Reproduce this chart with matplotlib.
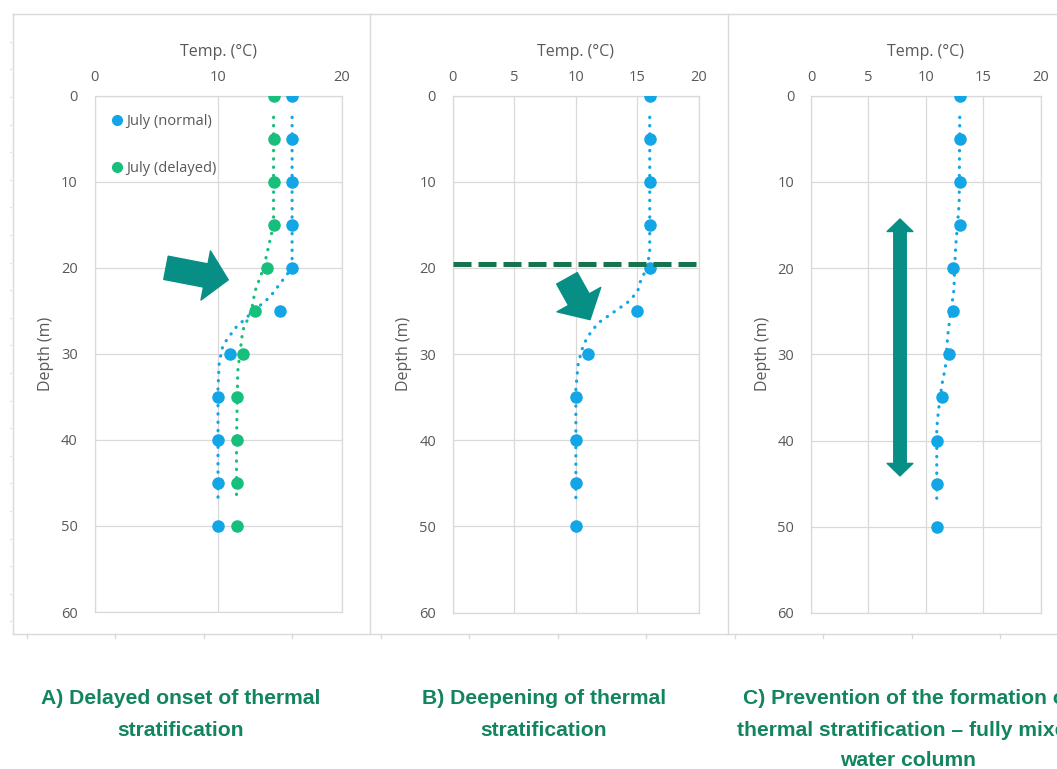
import numpy as np
import matplotlib.pyplot as plt
from matplotlib.patches import FancyArrowPatch
from matplotlib.lines import Line2D

plt.rcParams['font.family'] = ['Open Sans', 'DejaVu Sans']

##Depths of the measured profiles (m)
depths = [0, 5, 10, 15, 20, 25, 30, 35, 40, 45, 50]

##A) delayed onset - markers
a_normal = [16, 16, 16, 16, 16, 15, 11, 10, 10, 10, 10]
a_delayed = [14.5, 14.5, 14.5, 14.5, 14, 13, 12, 11.5, 11.5, 11.5, 11.5]
##A) smoothed dotted lines
a_normal_line_d = [2.5, 20, 21.7, 23.4, 25, 27, 29, 31, 34, 40, 47.3]
a_normal_line_t = [16, 16, 15.1, 14.2, 12.9, 11.4, 10.4, 10.1, 10, 10, 10]
a_delayed_line_d = [2.5, 15, 17.5, 20, 22.7, 25, 27.3, 29.7, 32, 40, 46.8]
a_delayed_line_t = [14.5, 14.5, 14.1, 13.7, 13.0, 12.7, 12.0, 11.8, 11.6, 11.5, 11.5]

##B) deepening
b_normal = [16, 16, 16, 16, 16, 15, 11, 10, 10, 10, 10]
b_line_d = [2.5, 18, 20, 21.3, 22.8, 24, 25.4, 26.4, 27.9, 29, 31, 34, 40, 47.3]
b_line_t = [16, 16, 15.8, 15.3, 15.0, 14.2, 12.8, 11.8, 11.0, 10.6, 10.2, 10, 10, 10]
b_thermocline = 19.5

##C) fully mixed
c_normal = [13, 13, 13, 13, 12.4, 12.4, 12, 11.4, 11, 11, 11]
c_line_d = [2.5, 12.5, 15, 17.5, 20, 22.5, 25.7, 27.9, 31.5, 33.5, 36.5, 38.6, 47.3]
c_line_t = [12.95, 12.9, 12.75, 12.6, 12.5, 12.45, 12.1, 11.9, 11.7, 11.4, 11.1, 10.95, 10.95]

captions = [
    ["A) Delayed onset of thermal", "stratification"],
    ["B) Deepening of thermal", "stratification"],
    ["C) Prevention of the formation of", "thermal stratification \u2013 fully mixed", "water column"],
]

blue = '#12a6e6'
green = '#16bf7c'
teal = '#078f86'
grid_c = '#d9d9d9'
text_c = '#595959'
cap_c = '#13855e'

W, H = 1057, 769
fig = plt.figure(figsize=(W / 100, H / 100), dpi=100)


def fx(x):
    return x / W


def fy(y):
    return 1 - y / H


def px_axes(x0, x1, y0, y1):
    return fig.add_axes([fx(x0), fy(y1), (x1 - x0) / W, (y1 - y0) / H])


##Outer frame of the three excel charts
frame = dict(color=grid_c, lw=1, transform=fig.transFigure)
fig.add_artist(Line2D([fx(12.7), 1], [fy(14), fy(14)], **frame))
fig.add_artist(Line2D([fx(12.7), 1], [fy(634), fy(634)], **frame))
for xs in [12.7, 370, 728.3]:
    fig.add_artist(Line2D([fx(xs), fx(xs)], [fy(14), fy(634)], **frame))
for xt in np.arange(26.7, W, 88.5):
    fig.add_artist(Line2D([fx(xt), fx(xt)], [fy(634), fy(638)], **frame))
for yt in np.arange(41.7, 634, 27.6):
    fig.add_artist(Line2D([fx(9.5), fx(12.7)], [fy(yt), fy(yt)], color='#e8e8e8', lw=1,
                          transform=fig.transFigure))


def setup(ax, xticks):
    ax.set_xlim(0, 20)
    ax.set_ylim(60, 0)
    ax.set_xticks(xticks)
    ax.set_yticks(range(0, 61, 10))
    ax.xaxis.tick_top()
    ax.xaxis.set_label_position('top')
    ax.tick_params(axis='x', length=0, labelsize=10.5, colors=text_c, pad=8)
    ax.tick_params(axis='y', length=0, labelsize=10.5, colors=text_c, pad=12)
    ax.grid(color=grid_c, lw=0.9)
    ax.set_axisbelow(True)
    for s in ax.spines.values():
        s.set_color(grid_c)
        s.set_linewidth(0.9)
    ax.set_xlabel('Temp. (\u00b0C)', fontsize=11.5, color=text_c, labelpad=10)
    ax.set_ylabel('Depth (m)', fontsize=11.5, color=text_c, labelpad=5)


dotted = dict(lw=2.3, linestyle=(0, (0.1, 2.5)), dash_capstyle='round')

##____________Panel A_____________
axA = px_axes(94.5, 341.5, 95.7, 612)
setup(axA, [0, 10, 20])
axA.plot(a_normal_line_t, a_normal_line_d, color=blue, **dotted)
axA.plot(a_delayed_line_t, a_delayed_line_d, color=green, **dotted)
axA.plot(a_normal, depths, 'o', ms=8, color=blue, zorder=3)
axA.plot(a_delayed, depths, 'o', ms=8, color=green, zorder=3)
handles = [Line2D([], [], marker='o', ls='', ms=7, color=blue),
           Line2D([], [], marker='o', ls='', ms=7, color=green)]
axA.legend(handles, ['July (normal)', 'July (delayed)'], loc='upper left',
           bbox_to_anchor=(0.0, 0.99), frameon=False, labelspacing=2.2,
           handletextpad=0.0, handlelength=1.3, fontsize=10.5, labelcolor=text_c)
arrow_big = "simple,head_width=3.6,head_length=1.65,tail_width=1.7"
axA.add_patch(FancyArrowPatch((5.79, 20.0), (10.83, 21.4), arrowstyle=arrow_big,
                              mutation_scale=10, color=teal, shrinkA=0, shrinkB=0, zorder=4))

##____________Panel B_____________
axB = px_axes(452.7, 699, 95.7, 612.5)
setup(axB, [0, 5, 10, 15, 20])
axB.plot(b_line_t, b_line_d, color=blue, **dotted)
axB.plot(b_normal, depths, 'o', ms=8, color=blue, zorder=3)
axB.plot([0, 20.2], [b_thermocline, b_thermocline], color='#15744d', lw=3.6,
         dashes=(3.6, 1.4), clip_on=False, zorder=4)
axB.add_patch(FancyArrowPatch((9.28, 21.2), (11.15, 26.0), arrowstyle=arrow_big,
                              mutation_scale=10, color=teal, shrinkA=0, shrinkB=0, zorder=4))

##____________Panel C_____________
axC = px_axes(811, 1040.7, 95.7, 613)
setup(axC, [0, 5, 10, 15, 20])
axC.plot(c_line_t, c_line_d, color=blue, **dotted)
axC.plot(c_normal, depths, 'o', ms=8, color=blue, zorder=3)
arrow_thin = "simple,head_width=1.85,head_length=0.9,tail_width=0.9"
for end in [14.3, 44.1]:
    axC.add_patch(FancyArrowPatch((7.75, 29.2), (7.75, end), arrowstyle=arrow_thin,
                                  mutation_scale=10, color=teal, shrinkA=0, shrinkB=0, zorder=4))

##____________Captions_____________
cap_x = [181, 544, 908]
cap_y = [698, 730, 761]
for cx, lines in zip(cap_x, captions):
    for cy, line in zip(cap_y, lines):
        fig.text(fx(cx), fy(cy), line, ha='center', va='center', fontsize=15.2,
                 fontweight='bold', color=cap_c, family=['Liberation Sans', 'DejaVu Sans'])

plt.savefig("out.png", dpi=100)
